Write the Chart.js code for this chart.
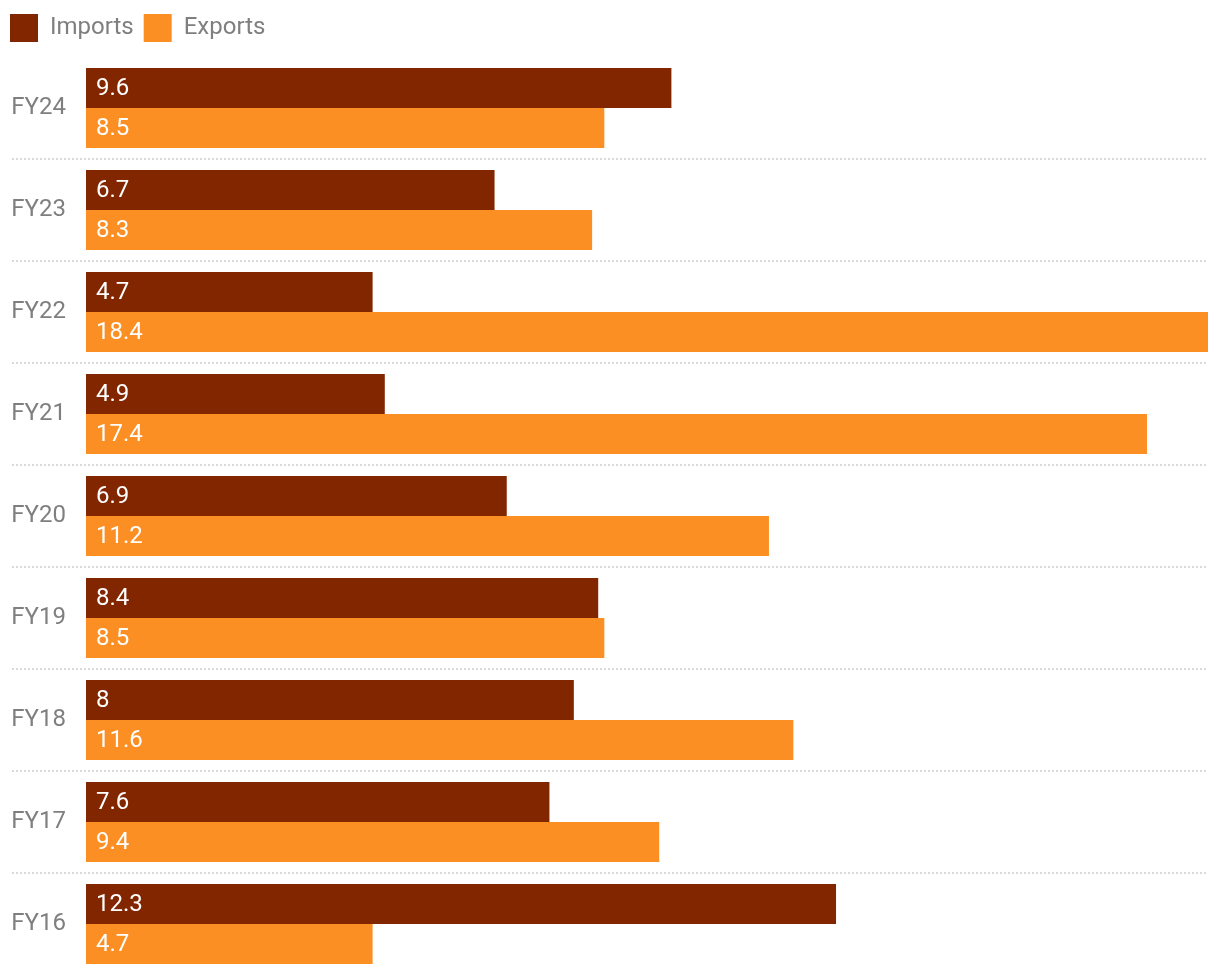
<!DOCTYPE html>
<html>
<head>
<meta charset="utf-8">
<script src="https://cdn.jsdelivr.net/npm/chart.js@4"></script>
<style>
    html, body { margin: 0; padding: 0; background: #ffffff; overflow: hidden; }
    canvas { display: block; }
</style>
</head>
<body>
<canvas id="chartComercio" width="1220" height="976"></canvas>
<script>
const categorias = ['FY24', 'FY23', 'FY22', 'FY21', 'FY20', 'FY19', 'FY18', 'FY17', 'FY16'];
const importaciones = [9.6, 6.7, 4.7, 4.9, 6.9, 8.4, 8, 7.6, 12.3];
const exportaciones = [8.5, 8.3, 18.4, 17.4, 11.2, 8.5, 11.6, 9.4, 4.7];

const colorImport = '#822600';
const colorExport = '#fc8f24';
const colorTexto = '#7f7f7f';

// etiquetas blancas dentro de cada barra
const etiquetasBarras = {
    id: 'etiquetasBarras',
    afterDatasetsDraw(chart) {
        const ctx = chart.ctx;
        ctx.save();
        ctx.fillStyle = '#ffffff';
        ctx.font = '24px Roboto';
        ctx.textBaseline = 'middle';
        ctx.textAlign = 'left';
        chart.data.datasets.forEach((ds, i) => {
            chart.getDatasetMeta(i).data.forEach((bar, j) => {
                ctx.fillText(String(ds.data[j]), bar.base + 10, bar.y + 1);
            });
        });
        ctx.restore();
    }
};

// lineas punteadas entre categorias, desde el borde izquierdo
const separadores = {
    id: 'separadores',
    beforeDatasetsDraw(chart) {
        const ctx = chart.ctx;
        const y = chart.scales.y;
        ctx.save();
        ctx.strokeStyle = '#d9d9d9';
        ctx.lineWidth = 2;
        ctx.setLineDash([2, 2]);
        for (let i = 1; i < categorias.length; i++) {
            const py = Math.round((y.getPixelForTick(i - 1) + y.getPixelForTick(i)) / 2);
            ctx.beginPath();
            ctx.moveTo(12, py);
            ctx.lineTo(chart.chartArea.right, py);
            ctx.stroke();
        }
        ctx.restore();
    }
};

// espacio extra debajo de la leyenda
const margenLeyenda = {
    id: 'margenLeyenda',
    beforeInit(chart) {
        const fitOriginal = chart.legend.fit;
        chart.legend.fit = function () {
            fitOriginal.bind(chart.legend)();
            this.height = 53;
        };
    }
};

const chartComercio = new Chart(document.getElementById('chartComercio').getContext('2d'), {
    type: 'bar',
    data: {
        labels: categorias,
        datasets: [
            { label: 'Imports', data: importaciones, backgroundColor: colorImport },
            { label: 'Exports', data: exportaciones, backgroundColor: colorExport }
        ]
    },
    options: {
        indexAxis: 'y',
        responsive: false,
        animation: false,
        layout: { autoPadding: false, padding: { left: 0, right: 12, top: 4, bottom: 1 } },
        datasets: { bar: { categoryPercentage: 80 / 102, barPercentage: 1 } },
        scales: {
            x: {
                display: false,
                min: 0,
                max: Math.max(...importaciones, ...exportaciones)
            },
            y: {
                border: { display: false },
                grid: { display: false, drawTicks: false },
                afterFit(scale) {
                    scale.width = 86;
                    scale.paddingTop = 0;
                    scale.paddingBottom = 0;
                },
                ticks: {
                    crossAlign: 'near',
                    padding: 20,
                    color: colorTexto,
                    font: { family: 'Roboto', size: 24 }
                }
            }
        },
        plugins: {
            legend: {
                position: 'top',
                align: 'start',
                labels: {
                    boxWidth: 28,
                    boxHeight: 28,
                    color: colorTexto,
                    font: { family: 'Roboto', size: 24 },
                    padding: 10
                }
            },
            tooltip: { enabled: false }
        }
    },
    plugins: [margenLeyenda, separadores, etiquetasBarras]
});
</script>
</body>
</html>
